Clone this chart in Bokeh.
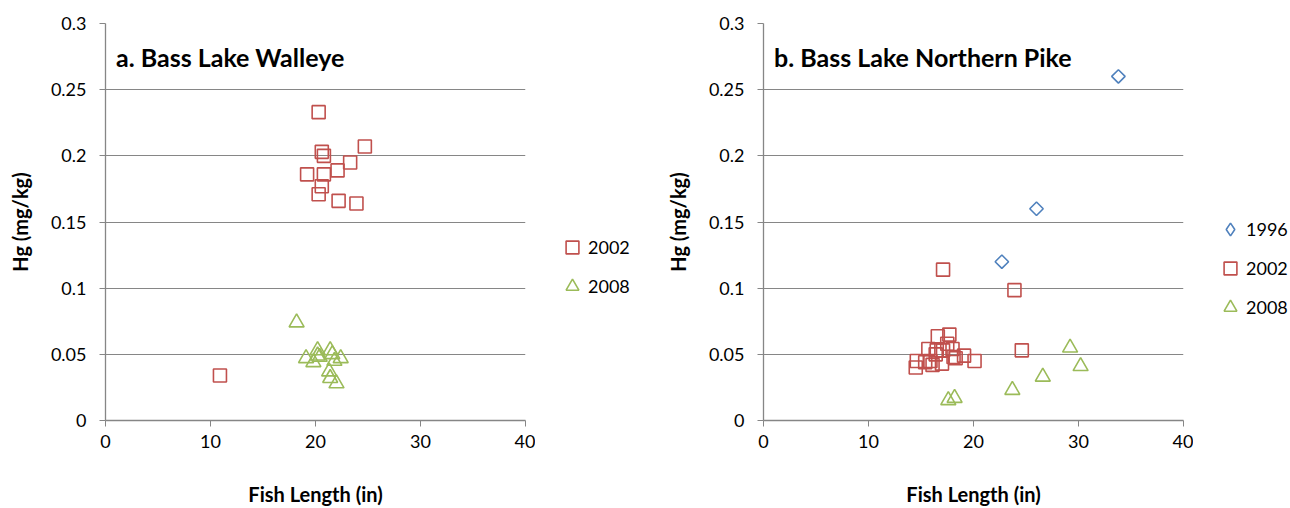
import numpy as np
from bokeh.plotting import figure
from bokeh.layouts import row
from bokeh.models import Range1d, FixedTicker, Legend, LegendItem, Label
from bokeh.embed import file_html
from bokeh.resources import INLINE

# ---- data ----
walleye_2002_len = [10.9, 20.3, 20.6, 20.8, 19.2, 20.8, 20.6, 20.3, 22.1, 22.2, 23.3, 23.9, 24.7]
walleye_2002_hg = [0.034, 0.233, 0.203, 0.200, 0.186, 0.186, 0.177, 0.171, 0.189, 0.166, 0.195, 0.164, 0.207]
walleye_2008_len = [18.2, 19.1, 19.8, 20.2, 20.2, 20.4, 21.4, 21.6, 21.8, 22.4, 21.3, 21.4, 22.0]
walleye_2008_hg = [0.074, 0.047, 0.044, 0.053, 0.049, 0.048, 0.053, 0.050, 0.045, 0.047, 0.037, 0.032, 0.028]

pike_1996_len = [22.7, 26.0, 33.8]
pike_1996_hg = [0.120, 0.160, 0.260]
pike_2002_len = [17.1, 23.9, 24.6, 16.6, 17.7, 17.5, 15.7, 16.5, 18.0, 19.1, 18.1, 16.4,
                 14.6, 14.5, 15.9, 17.0, 18.3, 20.1, 16.1, 15.4, 17.1]
pike_2002_hg = [0.114, 0.0985, 0.053, 0.0637, 0.0649, 0.058, 0.054, 0.053, 0.054, 0.049, 0.048, 0.050,
                0.045, 0.040, 0.045, 0.043, 0.047, 0.045, 0.042, 0.044, 0.053]
pike_2008_len = [17.6, 18.2, 23.7, 26.6, 29.2, 30.2]
pike_2008_hg = [0.0153, 0.017, 0.023, 0.033, 0.055, 0.041]

x_ticks = [0, 10, 20, 30, 40]
y_ticks = [0, 0.05, 0.1, 0.15, 0.2, 0.25, 0.3]
y_tick_labels = ["0", "0.05", "0.1", "0.15", "0.2", "0.25", "0.3"]

RED = "#C0504D"
GREEN = "#9BBB59"
BLUE = "#4F81BD"
GRAY = "#868686"
FONT = "Lato"

SERIES_STYLE = {
    "1996": dict(marker="square", angle=np.pi / 4, size=9.5, line_color=BLUE, legend_marker="diamond"),
    "2002": dict(marker="square", angle=0, size=13, line_color=RED, legend_marker="square"),
    "2008": dict(marker="triangle", angle=0, size=15, line_color=GREEN, legend_marker="triangle"),
}


def make_fig(title):
    p = figure(width=535, height=508, output_backend="svg", toolbar_location=None,
               x_range=Range1d(0, 40), y_range=Range1d(0, 0.3),
               min_border_left=105, min_border_right=10,
               min_border_top=23, min_border_bottom=86)
    p.outline_line_color = None
    p.xgrid.grid_line_color = None
    p.ygrid.grid_line_color = GRAY
    p.ygrid.grid_line_width = 1
    p.xaxis.ticker = FixedTicker(ticks=x_ticks)
    p.yaxis.ticker = FixedTicker(ticks=y_ticks)
    p.yaxis.major_label_overrides = {t: s for t, s in zip(y_ticks, y_tick_labels)}
    for ax in (p.xaxis, p.yaxis):
        ax.axis_line_color = GRAY
        ax.axis_line_width = 1.3
        ax.major_tick_line_color = GRAY
        ax.major_tick_out = 6
        ax.major_tick_in = 0
        ax.minor_tick_line_color = None
        ax.major_label_text_font = FONT
        ax.major_label_text_font_size = "18px"
        ax.major_label_text_color = "black"
        ax.axis_label_text_font = FONT
        ax.axis_label_text_font_style = "bold"
        ax.axis_label_text_font_size = "20px"
        ax.axis_label_text_color = "black"
    p.xaxis.axis_label = "Fish Length (in)"
    p.yaxis.axis_label = "Hg (mg/kg)"
    p.xaxis.major_label_standoff = 8
    p.yaxis.major_label_standoff = 13
    p.xaxis.axis_label_standoff = 31
    p.yaxis.axis_label_standoff = 16
    p.add_layout(Label(x=1.0, y=0.2745, text=title, text_font=FONT, text_font_style="bold",
                       text_font_size="25px", text_baseline="middle", text_color="black"))
    return p


def plot_series(p, name, xs, ys, legend_only=False):
    st = SERIES_STYLE[name]
    marker = st["legend_marker"] if legend_only else st["marker"]
    return p.scatter(xs, ys, marker=marker, angle=st["angle"], size=st["size"],
                     fill_color=None, line_color=st["line_color"], line_width=1.6)


def legend_fig(width, names, y_off):
    lf = figure(width=width, height=508, output_backend="svg", toolbar_location=None,
                x_range=Range1d(0, 1), y_range=Range1d(0, 1),
                x_axis_type=None, y_axis_type=None,
                min_border_left=0, min_border_right=0, min_border_top=0, min_border_bottom=0)
    lf.outline_line_color = None
    lf.grid.grid_line_color = None
    items = []
    for n in names:
        # legend-only renderer: one point placed outside the visible range
        r = plot_series(lf, n, [-5], [-5], legend_only=True)
        items.append(LegendItem(label=n, renderers=[r]))
    lg = Legend(items=items, location=(21, y_off))
    lg.background_fill_alpha = 0
    lg.border_line_color = None
    lg.padding = 0
    lg.margin = 0
    lg.spacing = 7
    lg.glyph_width = 32
    lg.glyph_height = 32
    lg.label_standoff = -4
    lg.label_text_font = FONT
    lg.label_text_font_size = "18px"
    lg.label_text_color = "black"
    lg.label_height = 32
    lf.add_layout(lg)
    return lf


# ---- left: walleye ----
p1 = make_fig("a. Bass Lake Walleye")
plot_series(p1, "2002", walleye_2002_len, walleye_2002_hg)
plot_series(p1, "2008", walleye_2008_len, walleye_2008_hg)
leg1 = legend_fig(123, ["2002", "2008"], 118)

# ---- right: northern pike ----
p2 = make_fig("b. Bass Lake Northern Pike")
plot_series(p2, "1996", pike_1996_len, pike_1996_hg)
plot_series(p2, "2002", pike_2002_len, pike_2002_hg)
plot_series(p2, "2008", pike_2008_len, pike_2008_hg)
leg2 = legend_fig(97, ["1996", "2002", "2008"], 97)

layout = row(p1, leg1, p2, leg2)
open("out.html", "w").write(file_html(layout, INLINE))
